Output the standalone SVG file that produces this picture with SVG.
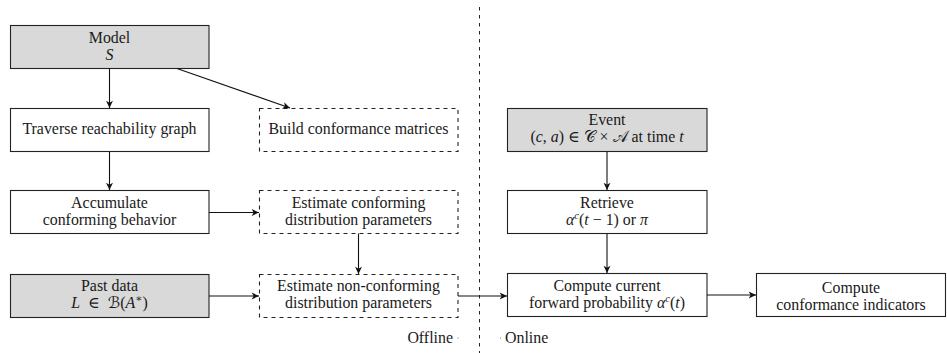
<svg xmlns="http://www.w3.org/2000/svg" width="947" height="353" viewBox="0 0 947 353">
<style>
text{font-family:"Liberation Serif","DejaVu Serif",serif;font-size:15.9px;fill:#1a1a1a;text-anchor:middle}
.i{font-style:italic}
.sym{font-family:"DejaVu Serif","DejaVu Sans","Noto Sans",serif}
.box{fill:#fff;stroke:#222;stroke-width:1.1}
.gray{fill:#d9d9d9}
.dash{stroke-dasharray:4 4}
.conn{fill:none;stroke:#111;stroke-width:1.1;marker-end:url(#ah)}
.sep{stroke:#222;stroke-width:1;stroke-dasharray:3.5 4.5}
.sm{font-size:10.5px}
</style>
<defs>
<marker id="ah" markerUnits="userSpaceOnUse" markerWidth="10" markerHeight="8" viewBox="-6 -3 7 6" refX="0" refY="0" orient="auto">
<path d="M0,0 L-5.5,-2.6 L-4,0 L-5.5,2.6 z" fill="#111"/>
</marker>
</defs>
<rect width="947" height="353" fill="#fff"/>
<line class="sep" x1="479.5" y1="7" x2="479.5" y2="353"/>

<g id="model"><rect class="box gray" x="10.5" y="25.5" width="198.5" height="43"/><text x="109.5" y="43">Model</text><text x="109.5" y="60" class="i">S</text></g>
<g id="traverse"><rect class="box" x="10.5" y="108.5" width="198.5" height="43"/><text x="109.5" y="134">Traverse reachability graph</text></g>
<g id="build"><rect class="box dash" x="259.5" y="108.5" width="198.5" height="43"/><text x="358.5" y="134">Build conformance matrices</text></g>
<g id="accumulate"><rect class="box" x="10.5" y="190.5" width="198.5" height="43"/><text x="109.5" y="208">Accumulate</text><text x="109.5" y="225">conforming behavior</text></g>
<g id="estconf"><rect class="box dash" x="259.5" y="190.5" width="198.5" height="43"/><text x="358.5" y="208">Estimate conforming</text><text x="358.5" y="225">distribution parameters</text></g>
<g id="pastdata"><rect class="box gray" x="10.5" y="274.5" width="198.5" height="43"/><text x="109.5" y="291">Past data</text><text x="109.5" y="308" xml:space="preserve"><tspan class="i">L</tspan>  ∈  <tspan class="sym">ℬ</tspan>(<tspan class="i">A</tspan><tspan class="sm" dy="-6">∗</tspan><tspan dy="6">)</tspan></text></g>
<g id="estnonconf"><rect class="box dash" x="259.5" y="274.5" width="198.5" height="43"/><text x="358.5" y="291">Estimate non-conforming</text><text x="358.5" y="308">distribution parameters</text></g>

<g id="event"><rect class="box gray" x="507.5" y="108.5" width="199.5" height="43"/><text x="607" y="125">Event</text><text x="607" y="142" xml:space="preserve">(<tspan class="i">c</tspan>, <tspan class="i">a</tspan>) ∈ <tspan class="sym">𝒞</tspan> × <tspan class="sym">𝒜</tspan> at time <tspan class="i">t</tspan></text></g>
<g id="retrieve"><rect class="box" x="507.5" y="190.5" width="199.5" height="43"/><text x="607" y="208">Retrieve</text><text x="607" y="225" xml:space="preserve"><tspan class="i">α</tspan><tspan class="sm i" dy="-6">c</tspan><tspan dy="6">(</tspan><tspan class="i">t</tspan> − 1) or <tspan class="i">π</tspan></text></g>
<g id="compute"><rect class="box" x="507.5" y="273.5" width="199.5" height="43"/><text x="607" y="291">Compute current</text><text x="607" y="308" xml:space="preserve">forward probability <tspan class="i">α</tspan><tspan class="sm i" dy="-6">c</tspan><tspan dy="6">(</tspan><tspan class="i">t</tspan>)</text></g>
<g id="indicators"><rect class="box" x="756.5" y="273.5" width="189" height="43"/><text x="851" y="293">Compute</text><text x="851" y="310">conformance indicators</text></g>

<g id="labels">
<text x="453" y="343" style="text-anchor:end">Offline</text>
<circle cx="458" cy="338" r="0.6" fill="#666"/>
<circle cx="500.5" cy="338" r="0.6" fill="#666"/>
<text x="505" y="343" style="text-anchor:start">Online</text>
</g>

<g id="connectors">
<path class="conn" d="M109.5,68.5 V108"/>
<path class="conn" d="M177,68.5 L290,108"/>
<path class="conn" d="M109.5,151.5 V190"/>
<path class="conn" d="M209,212.5 H259"/>
<path class="conn" d="M358.5,233.5 V274"/>
<path class="conn" d="M209,296 H259"/>
<path class="conn" d="M458,296 H507"/>
<path class="conn" d="M607,151.5 V190"/>
<path class="conn" d="M607,233.5 V273"/>
<path class="conn" d="M707,295 H756"/>
</g>
</svg>
